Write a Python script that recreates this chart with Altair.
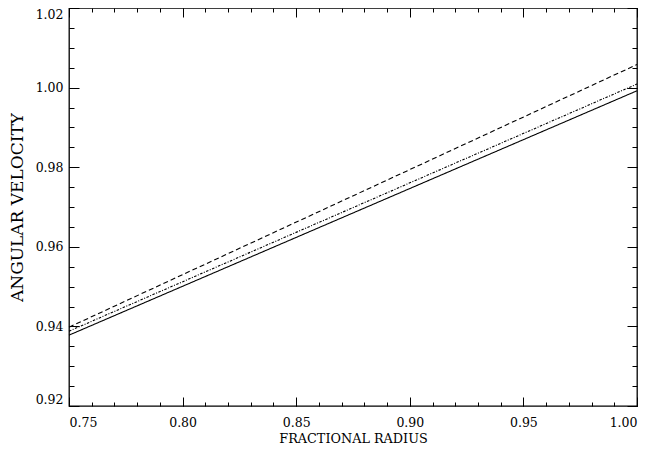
import altair as alt
import pandas as pd

# data
radius = [0.75, 1.00]
solid_vals = [0.9378, 0.9992]
dotted_vals = [0.9388, 1.0009]
dashed_vals = [0.9398, 1.0058]
models = ["solid", "dashdot", "dashed"]

x_major = [0.75, 0.80, 0.85, 0.90, 0.95, 1.00]
x_minor = [round(0.75 + 0.01 * i, 2) for i in range(26)]
y_major = [0.92, 0.94, 0.96, 0.98, 1.00, 1.02]
y_minor = [round(0.92 + 0.005 * i, 3) for i in range(21)]

rows = []
for name, vals in zip(models, [solid_vals, dotted_vals, dashed_vals]):
    for r, v in zip(radius, vals):
        rows.append({"r": r, "w": v, "model": name})
df = pd.DataFrame(rows)

W, H = 568, 398
FONT = "DejaVu Serif"
xs = alt.Scale(domain=[0.75, 1.00], nice=False, zero=False)
ys = alt.Scale(domain=[0.92, 1.02], nice=False, zero=False)

base = alt.Chart(df)

lines = base.mark_line(color="black", strokeWidth=1.1).encode(
    x=alt.X("r:Q", scale=xs, axis=alt.Axis(
        orient="bottom", values=x_major, format=".2f", ticks=False, tickSize=0,
        domain=False, grid=False, labelFont=FONT, labelFontSize=12.5, labelColor="black",
        labelPadding=10, title="FRACTIONAL RADIUS", titleFont=FONT, titleFontSize=12.8,
        titleFontWeight="normal", titleColor="black", titlePadding=4)),
    y=alt.Y("w:Q", scale=ys, axis=alt.Axis(
        orient="left", values=y_major, format=".2f", ticks=False, tickSize=0,
        domain=False, grid=False, labelFont=FONT, labelFontSize=12.5, labelColor="black",
        labelPadding=6, labelFlush=True, title="ANGULAR VELOCITY", titleFont=FONT,
        titleFontSize=17, titleFontWeight="normal", titleColor="black", titlePadding=9)),
    strokeDash=alt.StrokeDash("model:N", scale=alt.Scale(
        domain=models, range=[[1, 0], [2.5, 1.5, 1, 1.5], [5, 3]]), legend=None),
)


def tick_layer(xorient, yorient, xvals, yvals, xsize, ysize):
    return base.mark_line(opacity=0).encode(
        x=alt.X("r:Q", scale=xs, axis=alt.Axis(
            orient=xorient, offset=-H, values=xvals, labels=False, domain=False,
            grid=False, tickSize=xsize, tickColor="black", tickWidth=1, title=None)),
        y=alt.Y("w:Q", scale=ys, axis=alt.Axis(
            orient=yorient, offset=-W, values=yvals, labels=False, domain=False,
            grid=False, tickSize=ysize, tickColor="black", tickWidth=1, title=None)),
        detail="model:N",
    )


chart = alt.layer(
    lines,
    tick_layer("top", "right", x_major, y_major, 9, 10),
    tick_layer("top", "right", x_minor, y_minor, 4, 5),
    tick_layer("bottom", "left", x_major, y_major, 9, 10),
    tick_layer("bottom", "left", x_minor, y_minor, 4, 5),
).resolve_axis(x="independent", y="independent").properties(
    width=W, height=H,
    autosize=alt.AutoSizeParams(type="none"),
    padding={"left": 61, "top": 0, "right": 7, "bottom": 45},
    background="white",
).configure_view(stroke="black", strokeWidth=1.3)

chart.save("out.html", embed_options={"renderer": "svg", "actions": False})
